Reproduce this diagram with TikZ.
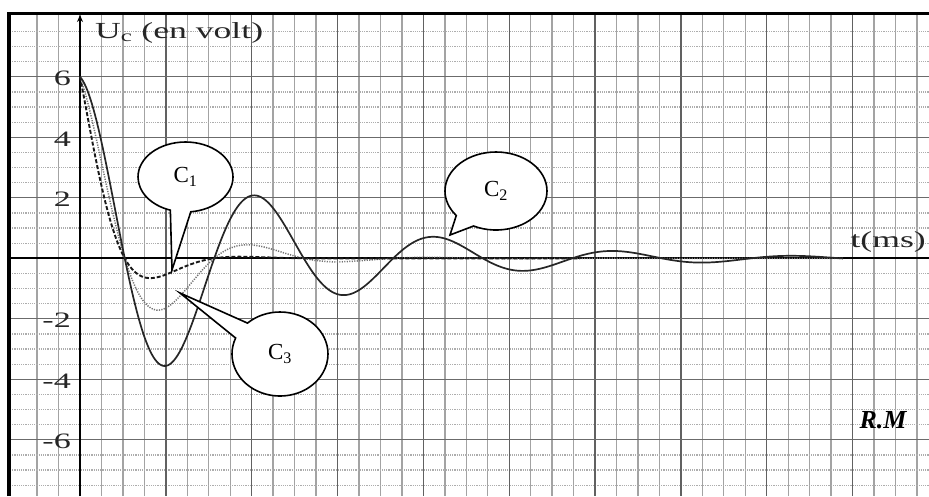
\documentclass[tikz,border=0pt]{standalone}
\usepackage{fontspec}
\setmainfont{Liberation Serif}
\newfontfamily\widefont[FakeStretch=1.55]{Liberation Serif}
\usetikzlibrary{shapes.callouts,arrows.meta}
\begin{document}
\begin{tikzpicture}[x=1pt,y=-1pt,
  minorv/.style={draw=black!36,line width=1.35pt},
  majorv/.style={draw=black!62,line width=1.4pt},
  minorh/.style={draw=black!32,line width=1.2pt,dash pattern=on 1.2pt off 1pt},
  majorh/.style={draw=black!58,line width=1.3pt},
  axisline/.style={draw=black,line width=1.8pt},
  framel/.style={draw=black,line width=3.4pt},
  tick/.style={font=\widefont\fontsize{22}{22}\selectfont,anchor=east,inner sep=0pt,text=black!85},
  title/.style={font=\widefont\fontsize{23}{23}\selectfont,inner sep=0pt,text=black!85},
  bubble/.style={ellipse callout,draw=black,fill=white,line width=1.6pt,callout pointer arc=25,inner sep=0pt,font=\fontsize{23}{23}\selectfont},
  ctwo/.style={draw=black!85,line width=1.7pt},
  cone/.style={draw=black!90,line width=1.9pt,dash pattern=on 4pt off 2pt},
  cthree/.style={draw=black!55,line width=1.5pt,dash pattern=on 1.2pt off 1.3pt}]
\useasboundingbox (0,0) rectangle (929,496);
% grid
\foreach \k in {-2,...,39} \draw[minorv] ({80+21.46*\k},15) -- ({80+21.46*\k},496);
\foreach \j in {-15,...,15} \draw[minorh] (10,{258.3-15.125*\j}) -- (929,{258.3-15.125*\j});
\foreach \m in {1,...,9} \draw[majorv] ({80+85.84*\m},15) -- ({80+85.84*\m},496);
\foreach \j in {-3,-2,-1,1,2,3} \draw[majorh] (10,{258.3-60.5*\j}) -- (929,{258.3-60.5*\j});
% frame
\draw[framel] (9,496) -- (9,13.3) -- (929,13.3);
% axes
\coordinate (ybot) at (80,496);
\coordinate (ytop) at (80,15);
\coordinate (xleft) at (10,258.3);
\coordinate (xright) at (929,258.3);
\draw[axisline,-{Stealth[length=7pt,width=6pt]}] (ybot) -- (ytop);
\draw[axisline] (xleft) -- (xright);
% tick labels
\node[tick] (l6) at (71,78.5) {6};
\node[tick] (l4) at (71,139) {4};
\node[tick] (l2) at (71,199.5) {2};
\node[tick] (lm2) at (71,320.3) {-2};
\node[tick] (lm4) at (71,380.8) {-4};
\node[tick] (lm6) at (71,441.3) {-6};
% axis titles
\node[title,anchor=base west] (ylab) at (95,38) {U\textsubscript{c} (en volt)};
\node[title,anchor=base east] (xlab) at (926,247) {t(ms)};
\node[inner sep=0pt,font=\bfseries\itshape\fontsize{26}{26}\selectfont] (sig) at (883,420) {R.M};
% curves
\draw[cthree] plot[domain=0:763,samples=400] ({80+\x},{258.3-181.5*exp(-0.015*\x)*cos(2.0112*\x)});
\draw[cone] plot[domain=0:500,samples=300] ({80+\x},{258.3-181.5*exp(-0.028*\x)*cos(2.0112*\x)});
\draw[ctwo] plot[domain=0:763,samples=500] ({80+\x},{258.3-181.5*exp(-0.006*\x)*cos(2.0112*\x)});
% callouts
\coordinate (p1) at (172,270);
\coordinate (p2) at (450,235);
\coordinate (p3) at (180,293);
\node[bubble,minimum width=95pt,minimum height=70pt,callout absolute pointer={(p1)}] (b1) at (185.5,177) {C\textsubscript{1}};
\node[bubble,minimum width=102pt,minimum height=78pt,callout absolute pointer={(p2)}] (b2) at (496,191) {C\textsubscript{2}};
\node[bubble,minimum width=96pt,minimum height=84pt,callout absolute pointer={(p3)}] (b3) at (280,354) {C\textsubscript{3}};
\end{tikzpicture}
\end{document}
